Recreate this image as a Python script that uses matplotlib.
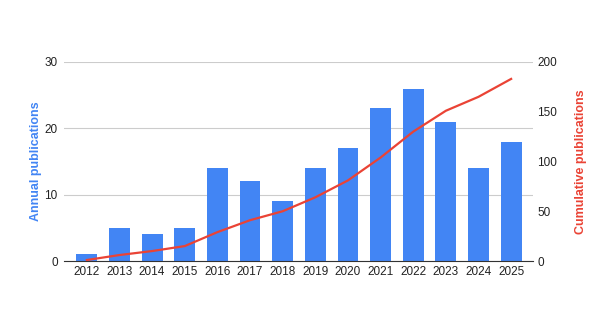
import matplotlib.pyplot as plt

plt.rcParams['font.family'] = ['Liberation Sans', 'DejaVu Sans']

years = ['2012', '2013', '2014', '2015', '2016', '2017', '2018',
         '2019', '2020', '2021', '2022', '2023', '2024', '2025']
annual = [1, 5, 4, 5, 14, 12, 9, 14, 17, 23, 26, 21, 14, 18]
cumulative = [1, 6, 10, 15, 29, 41, 50, 64, 81, 104, 130, 151, 165, 183]

bar_color = '#4285F4'
line_color = '#EA4335'

fig = plt.figure(figsize=(6.11, 3.29), dpi=100)
ax = fig.add_axes([64 / 611, (329 - 261) / 329, (533 - 64) / 611, (261 - 62) / 329])

x = list(range(len(years)))
ax.bar(x, annual, width=0.64, color=bar_color, zorder=2)
ax.set_xlim(-0.7, 13.67)
ax.set_ylim(0, 30)
ax.set_yticks([0, 10, 20, 30])
ax.set_xticks(x)
ax.set_xticklabels(years)
ax.grid(axis='y', color='#cccccc', linewidth=0.8, zorder=0)
for s in ['top', 'right', 'left']:
    ax.spines[s].set_visible(False)
ax.spines['bottom'].set_color('#333333')
ax.tick_params(axis='both', length=0, labelsize=8.5, colors='#222222')
ax.tick_params(axis='y', pad=4.5)
ax.set_ylabel('Annual publications', color=bar_color, fontsize=9, fontweight='bold', labelpad=2)

ax2 = ax.twinx()
ax2.plot(x, cumulative, color=line_color, linewidth=1.6, zorder=3)
ax2.set_ylim(0, 200)
ax2.set_yticks([0, 50, 100, 150, 200])
for s in ['top', 'right', 'left', 'bottom']:
    ax2.spines[s].set_visible(False)
ax2.tick_params(axis='y', length=0, labelsize=8.5, colors='#222222', pad=3)
ax2.set_ylabel('Cumulative publications', color=line_color, fontsize=9, fontweight='bold', labelpad=13)

fig.savefig('out.png', dpi=100)
